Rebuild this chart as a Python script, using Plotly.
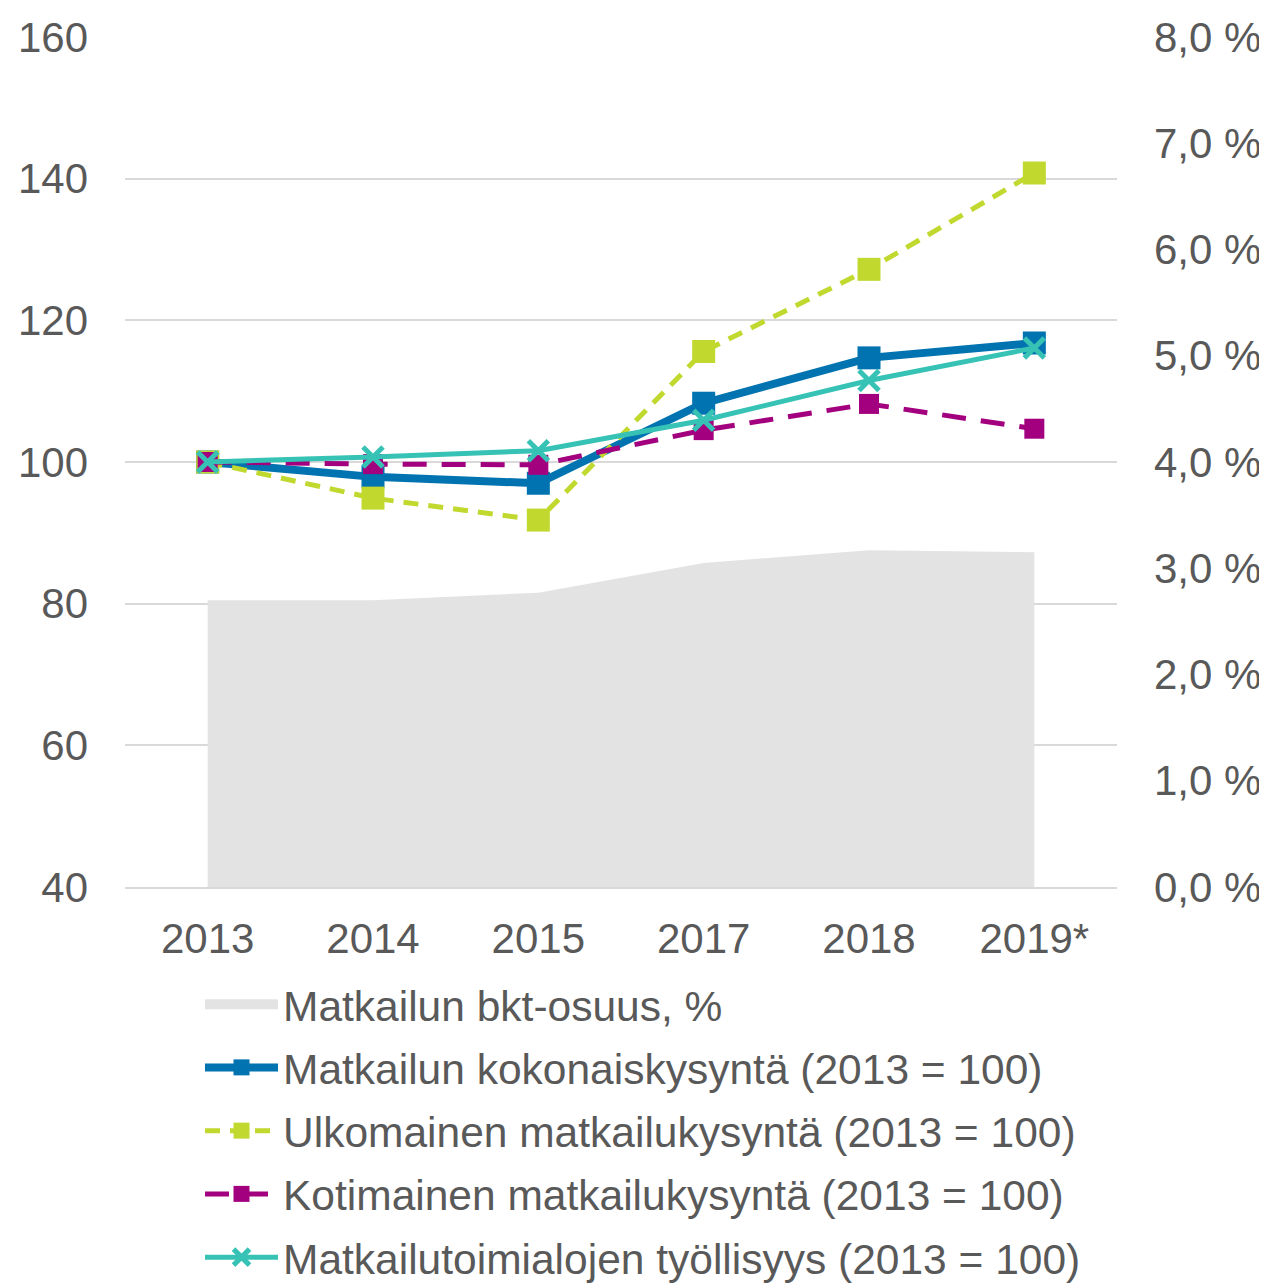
import plotly.graph_objects as go

years = ["2013", "2014", "2015", "2017", "2018", "2019*"]
bkt_share = [2.70, 2.70, 2.77, 3.05, 3.17, 3.15]
total_demand = [100.0, 97.9, 97.0, 108.3, 114.7, 116.8]
foreign_demand = [100.0, 94.9, 91.8, 115.6, 127.2, 140.8]
domestic_demand = [100.0, 99.7, 99.6, 104.5, 108.2, 104.7]
employment = [100.0, 100.7, 101.6, 105.9, 111.5, 116.1]

left_ticks = [40, 60, 80, 100, 120, 140, 160]
right_ticks = [0, 1, 2, 3, 4, 5, 6, 7, 8]
right_labels = ["0,0 %", "1,0 %", "2,0 %", "3,0 %", "4,0 %", "5,0 %", "6,0 %", "7,0 %", "8,0 %"]

names = [
    "Matkailun bkt-osuus, %",
    "Matkailun kokonaiskysyntä (2013 = 100)",
    "Ulkomainen matkailukysyntä (2013 = 100)",
    "Kotimainen matkailukysyntä (2013 = 100)",
    "Matkailutoimialojen työllisyys (2013 = 100)",
]

FONT = "Liberation Sans, Arial, sans-serif"
TXT = "#595959"
AREA = "#e3e3e3"

W, H = 1259, 1275

fig = go.Figure()
fig.add_trace(go.Scatter(
    x=years, y=bkt_share, yaxis="y2", name=names[0], mode="none",
    fill="tozeroy", fillcolor=AREA, showlegend=False, hoverinfo="skip",
))
# legend entry for the area (thick swatch)
fig.add_trace(go.Scatter(
    x=[years[0]], y=[None], yaxis="y2", name=names[0], mode="lines",
    line=dict(color=AREA, width=22), legendgroup="a", legendrank=1,
))
fig.add_trace(go.Scatter(
    x=years, y=total_demand, name=names[1], mode="lines+markers",
    line=dict(color="#0073B0", width=8),
    marker=dict(symbol="square", size=23, color="#0073B0"),
    legendgroup="b", legendrank=2,
))
fig.add_trace(go.Scatter(
    x=years, y=foreign_demand, name=names[2], mode="lines+markers",
    line=dict(color="#C1D82F", width=5, dash="15px,10px"),
    marker=dict(symbol="square", size=23, color="#C1D82F"),
    legendgroup="c", legendrank=3,
))
fig.add_trace(go.Scatter(
    x=years, y=domestic_demand, name=names[3], mode="lines+markers",
    line=dict(color="#A3007F", width=5, dash="24px,15px"),
    marker=dict(symbol="square", size=20, color="#A3007F"),
    legendgroup="d", legendrank=4,
))
fig.add_trace(go.Scatter(
    x=years, y=employment, name=names[4], mode="lines+markers",
    line=dict(color="#36C2B4", width=5),
    marker=dict(symbol="x-thin", size=20, color="#36C2B4",
                line=dict(color="#36C2B4", width=5)),
    legendgroup="e", legendrank=5,
))

fig.update_layout(
    width=W, height=H,
    margin=dict(l=117, r=150, t=29, b=396, autoexpand=False),
    paper_bgcolor="white", plot_bgcolor="white",
    font=dict(family=FONT, size=42, color=TXT),
    xaxis=dict(
        type="category", range=[-0.5, 5.5], showgrid=False,
        showline=True, linecolor="#d9d9d9", linewidth=2,
        ticks="", tickfont=dict(size=42, color=TXT), ticklabelstandoff=14,
        automargin=False,
    ),
    yaxis=dict(
        range=[40, 160], tickvals=left_ticks, showgrid=True,
        gridcolor="#d9d9d9", gridwidth=2, zeroline=False, showline=False,
        ticks="", tickfont=dict(size=42, color=TXT), ticklabelstandoff=36,
        automargin=False,
    ),
    yaxis2=dict(
        range=[0, 8], overlaying="y", side="right", tickvals=right_ticks,
        ticktext=right_labels, showgrid=False, zeroline=False, showline=False,
        ticks="", tickfont=dict(size=42, color=TXT), ticklabelstandoff=36,
        automargin=False,
    ),
    showlegend=True,
    legend=dict(
        orientation="v", xref="container", yref="container",
        x=192 / W, xanchor="left", y=1 - 962 / H, yanchor="top",
        font=dict(size=42.5, color=TXT, family=FONT),
        itemwidth=73, tracegroupgap=5, traceorder="grouped",
        bgcolor="rgba(0,0,0,0)",
    ),
)

fig.write_html("out.html")
